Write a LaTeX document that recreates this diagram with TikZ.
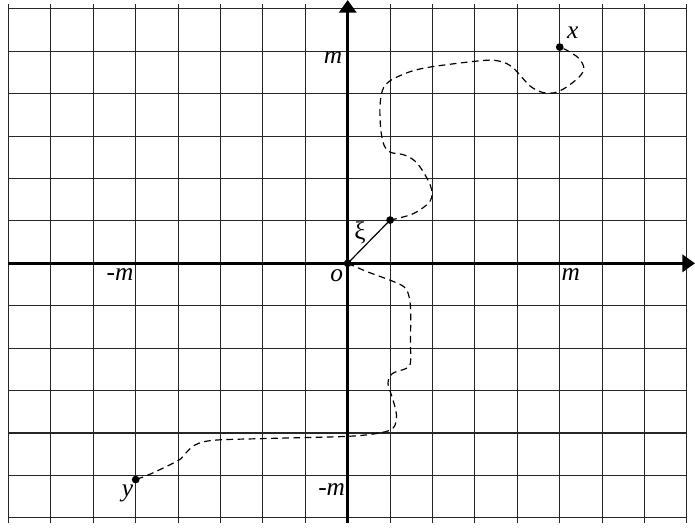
\documentclass[tikz,border=0pt]{standalone}
\usepackage{fontspec}
\setmainfont{Liberation Serif}
\usetikzlibrary{arrows.meta}

\begin{document}
\begin{tikzpicture}[x=1cm,y=1.02cm,
  every node/.style={font=\fontsize{17}{20}\selectfont\itshape, inner sep=0pt, outer sep=0pt},
  dot/.style={circle, fill=black, minimum size=5.2pt},
  axis/.style={line width=2.2pt, -{Triangle[length=8.5pt,width=11.5pt]}},
  walk/.style={dash pattern=on 4.5pt off 3pt, line width=0.8pt}]
\useasboundingbox (-8.2cm,-6.243cm) rectangle (8.19cm,6.21cm);

\draw[black!85,line width=0.75pt] (-8,-6) grid (8,6);

\coordinate (xl) at (-8,0);
\coordinate (xr) at (8.19cm,0cm);
\coordinate (yb) at (0,-6);
\coordinate (yt) at (0cm,6.21cm);
\draw[axis] (xl) -- (xr);
\draw[axis] (yb) -- (yt);

\node[dot] (o)  at (0,0)   {};
\node[dot] (xi) at (1,1)   {};
\node[dot] (x)  at (5,5)   {};
\node[dot] (y)  at (-5,-5) {};

\node[anchor=north east, xshift=-3.8pt, yshift=-3.2pt] (mtop)   at (0,5)  {m};
\node[anchor=north west, xshift=1.3pt,  yshift=-3.2pt] (mright) at (5,0)  {m};
\node[anchor=north east, xshift=-1.6pt, yshift=-3.2pt] (mleft)  at (-5,0) {-m};
\node[anchor=north east, xshift=-1.8pt, yshift=-2.5pt] (mbot)   at (0,-5) {-m};
\node[anchor=north east, xshift=-3.2pt, yshift=-4.5pt] (olbl)   at (o)    {o};
\node[anchor=south west, xshift=4.9pt,  yshift=5.6pt]  (xlbl)   at (x)    {x};
\node[anchor=north east, xshift=-1.8pt, yshift=-3.8pt] (ylbl)   at (y)    {y};
\node[font=\fontsize{17}{20}\selectfont\upshape] (xilbl) at (0.29,0.71) {ξ};

\draw[line width=0.8pt] (o.center) -- (xi.center);

\draw[walk] plot[smooth, tension=0.55] coordinates {(xi.center) (1.55,1.15) (1.95,1.45) (1.95,1.8) (1.65,2.3) (1.35,2.5) (1.0,2.57) (0.85,2.75) (0.78,3.1) (0.76,3.6) (0.82,4.0) (1.0,4.22) (1.47,4.43) (2.02,4.55) (3.2,4.69) (3.6,4.67) (3.9,4.52) (4.3,4.1) (4.6,3.95) (4.85,3.94) (5.12,4.05) (5.45,4.3) (5.57,4.51) (5.45,4.74) (5.18,4.92) (x.center)};

\draw[walk] plot[smooth, tension=0.55] coordinates {(o.center) (0.45,-0.19) (1.1,-0.43) (1.38,-0.6) (1.48,-1.0) (1.48,-1.8) (1.48,-2.3) (1.38,-2.43) (1.05,-2.55) (0.95,-2.78) (1.05,-3.1) (1.15,-3.5) (1.08,-3.8) (0.76,-3.92) (0,-4.0) (-1.9,-4.05) (-3.15,-4.09) (-3.6,-4.2) (-3.85,-4.42) (-4.0,-4.56) (-4.65,-4.87) (y.center)};

\end{tikzpicture}
\end{document}
